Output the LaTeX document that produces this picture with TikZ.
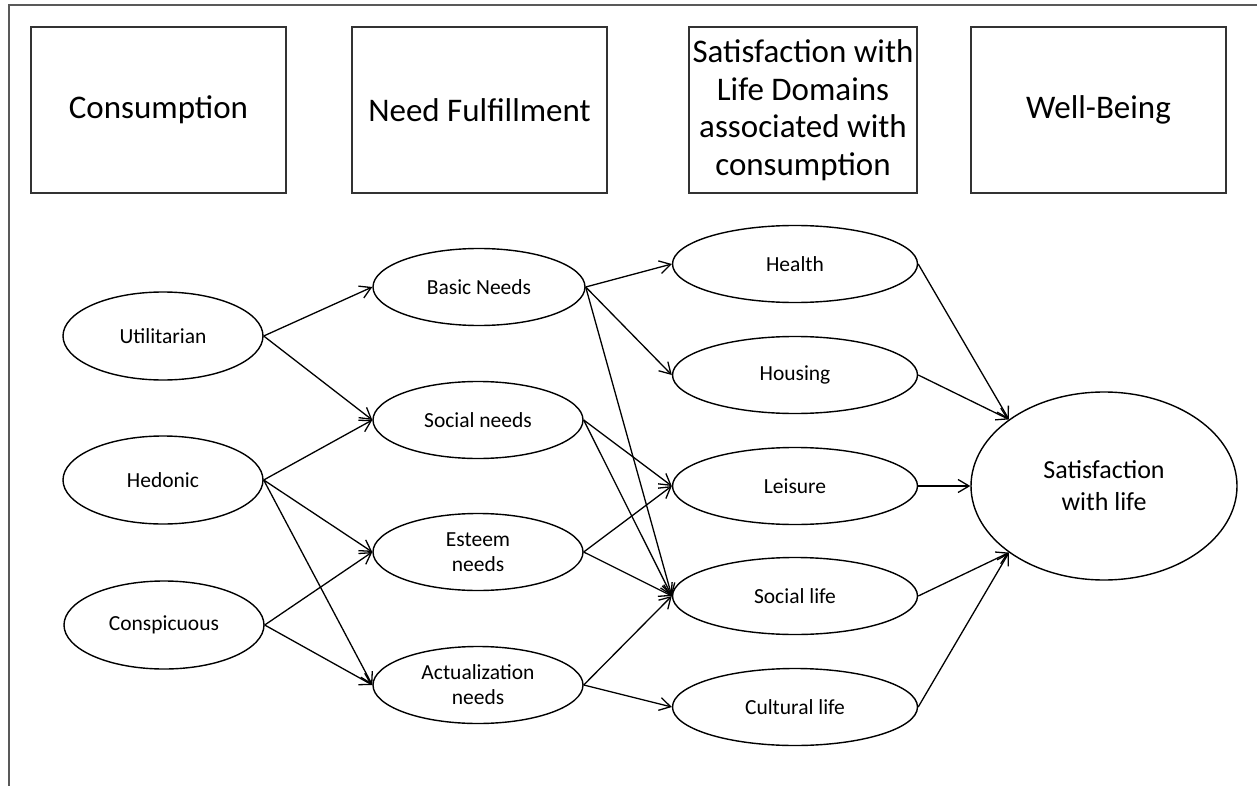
\documentclass[tikz,border=0pt]{standalone}
\usepackage{fontspec}
\setmainfont{Carlito}
\usetikzlibrary{arrows.meta,shapes.geometric}
\begin{document}
\begin{tikzpicture}[x=1pt,y=-1pt,
  header/.style={draw=black!80, line width=1.5pt, minimum height=166pt,
    inner sep=0pt, align=center, font=\fontsize{33}{37.5}\selectfont},
  oval/.style={draw, ellipse, line width=1.4pt, inner sep=0pt, align=center,
    font=\fontsize{21.5}{25}\selectfont},
  leftoval/.style={oval, minimum width=200pt, minimum height=88pt},
  needoval/.style={oval, minimum width=210pt, minimum height=77pt},
  domainoval/.style={oval, minimum width=245pt, minimum height=77pt},
  link/.style={line width=1.3pt, -{Straight Barb[length=11pt,width=13pt,line width=1.3pt]}}]

\useasboundingbox (0,0) rectangle (1257,786);

% outer frame (left and top edges)
\draw[line width=2pt, black!65] (9,790) -- (9,5) -- (1262,5);

% column headings
\node[header, minimum width=255pt] (hcons) at (158.5,110) {Consumption};
\node[header, minimum width=255pt] (hneed) at (479.5,110) {Need Fulfillment};
\node[header, minimum width=228pt] (hdom)  at (803,110) {Satisfaction with\\Life Domains\\associated with\\consumption};
\node[header, minimum width=255pt] (hwell) at (1098.5,110) {Well-Being};

% consumption types
\node[leftoval] (util)  at (163,336) {Utilitarian};
\node[leftoval] (hed)   at (163,480) {Hedonic};
\node[leftoval] (consp) at (164,625) {Conspicuous};

% needs
\node[needoval, minimum width=212pt] (basic) at (479,287) {Basic Needs};
\node[needoval] (social) at (478,420) {Social needs};
\node[needoval] (esteem) at (478,552) {Esteem\\needs};
\node[needoval] (actual) at (478,685) {Actualization\\needs};

% life domains
\node[domainoval] (health)  at (795,264) {Health};
\node[domainoval] (housing) at (795,375) {Housing};
\node[domainoval] (leisure) at (795,486) {Leisure};
\node[domainoval] (slife)   at (795,596) {Social life};
\node[domainoval] (culture) at (795,707) {Cultural life};

% overall well-being
\node[oval, minimum width=266pt, minimum height=188pt,
      font=\fontsize{26}{32}\selectfont] (sat) at (1104,486) {Satisfaction\\with life};

% consumption -> needs
\draw[link] (util.east) -- (basic.west);
\draw[link] (util.east) -- (social.west);
\draw[link] (hed.east) -- (social.west);
\draw[link] (hed.east) -- (esteem.west);
\draw[link] (hed.east) -- (actual.west);
\draw[link] (consp.east) -- (esteem.west);
\draw[link] (consp.east) -- (actual.west);

% needs -> life domains
\draw[link] (basic.east) -- (health.west);
\draw[link] (basic.east) -- (housing.west);
\draw[link] (basic.east) -- (slife.west);
\draw[link] (social.east) -- (leisure.west);
\draw[link] (social.east) -- (slife.west);
\draw[link] (esteem.east) -- (leisure.west);
\draw[link] (esteem.east) -- (slife.west);
\draw[link] (actual.east) -- (slife.west);
\draw[link] (actual.east) -- (culture.west);

% life domains -> satisfaction with life
\draw[link] (health.east) -- (sat.145);
\draw[link] (housing.east) -- (sat.145);
\draw[link] (leisure.east) -- (sat.west);
\draw[link] (slife.east) -- (sat.215);
\draw[link] (culture.east) -- (sat.215);
\end{tikzpicture}
\end{document}
